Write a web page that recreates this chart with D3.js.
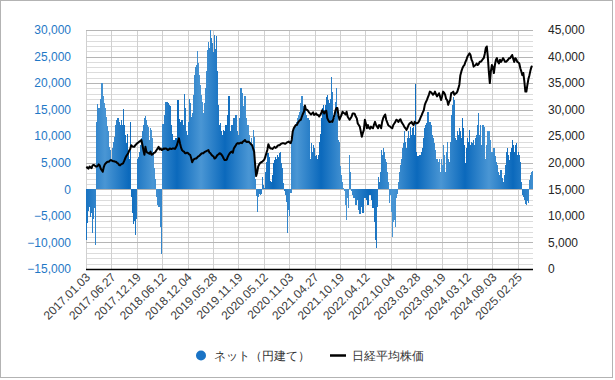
<!DOCTYPE html>
<html><head><meta charset="utf-8">
<script src="https://cdn.jsdelivr.net/npm/d3@7/dist/d3.min.js"></script>
<style>
html,body{margin:0;padding:0;background:#fff;}
svg{display:block;}
text{font-family:"Liberation Sans",Arial,sans-serif;}
</style></head>
<body>
<svg id="c" width="615" height="380"></svg>
<script>
const startDate = "2017.01.03";
const weekCount = 440;
const netValues = [
-9500,-6300,-4000,-3300,-5200,-4500,-8200,-5500,-3600,-10400,
12700,16000,15400,14000,17000,20000,17500,16200,15300,13700,
12000,10900,8000,7400,4600,5800,7700,9000,9900,12100,
13000,13400,12700,12100,13000,12100,15100,12100,10200,8700,
10500,7100,5800,12700,-1500,-4500,-6500,-6000,-8600,-5500,
5800,6100,7100,8300,9600,10900,12100,13400,13800,13000,
12100,11800,9300,11500,11200,9600,7100,4000,2000,-1500,
-3000,-3300,-3300,-7000,-12200,12300,12300,14000,16400,16400,
16200,15900,15600,12100,10500,9000,9300,8700,9600,9000,
16800,13200,10200,12700,13000,12100,17900,15300,10900,10200,
12700,17000,16200,13700,14300,17800,21500,23100,23400,26000,
23700,21500,19600,17800,16500,14300,16200,19000,22200,26200,
27800,26700,30000,28400,27500,25900,29000,26500,28800,22200,
15900,12100,12400,10900,10200,11200,10900,12100,12100,14000,
17600,10200,10900,12100,9600,13400,13400,14000,10900,9000,
10200,13400,19000,18100,15600,15300,17500,13400,12100,12100,
10200,9000,9600,8300,11200,9900,2000,-1300,-4200,-1400,
-800,-1100,-800,2400,800,300,3300,5200,6800,6800,
6100,1600,1400,2700,4900,5500,6100,5800,6500,6100,
6800,7100,4900,4000,1100,-300,-1100,-2300,-8300,-3900,
-5100,-600,8700,9600,10900,11500,12100,12700,13400,14000,
14600,16200,17500,13400,15600,15300,14000,13400,13400,13000,
5800,8700,7100,8300,7700,6200,6500,5800,6500,9000,
10500,13400,15300,15900,14900,15900,17300,17800,16800,16200,
17100,21200,18400,14000,13400,16500,19000,14000,9300,9000,
4300,2700,1400,200,-400,-3000,-5800,-1700,-3600,6500,
3300,-400,-1100,-1700,-1100,-3000,-2000,-1700,-3900,-4700,
-1700,-3300,-4500,-1200,-1700,-400,-2000,-3000,-1100,-400,
-1100,-2000,-3600,-6100,-9500,-11100,-3300,2400,1400,3300,
7400,6500,7700,7100,5800,5200,3300,1400,-2600,-1100,
-4200,-8900,-6100,-5800,-7000,-1700,-800,1400,3300,4600,
5800,7700,8700,10900,9000,7700,9600,10900,9600,11800,
10200,11500,11800,10200,19800,7100,6200,1400,6500,5800,
7100,7700,9600,11500,12100,12400,14600,12100,12700,12100,
10200,9600,8700,7400,5800,5800,5200,5800,3300,5800,
4600,8300,6500,3300,7100,9000,5800,5200,9000,14000,
15900,17300,16800,9600,9300,10900,10200,11500,10900,9600,
13400,11500,8300,4900,7700,9600,9000,11200,8300,9000,
8700,9300,8300,9600,10200,12100,14300,10200,12100,8300,
12100,11800,5800,3300,8300,10900,11000,9300,7100,5800,
7100,7700,6200,5200,4600,3300,1800,2700,3600,2100,
1400,2700,4600,7100,7700,6500,5500,7100,7700,9300,
8300,7100,8300,8700,6500,7100,6500,5200,1400,-1000,
-1500,-2000,-2700,-3000,-2200,-2600,1800,2700,3300,3500
];
const nikkeiValues = [
19300,19000,18900,19300,19100,19000,19500,19600,19500,19300,
19300,19400,19700,19500,18900,18600,18300,19200,19700,19900,
20100,20200,20200,20400,20500,20400,20300,20300,20200,20200,
20000,19900,19600,19500,19700,19800,19900,20300,20800,21200,
21500,21800,22300,22600,23300,23100,23000,23000,23300,23500,
23700,23800,24000,24100,24300,23400,22400,21500,23000,22100,
21900,21800,21700,22100,21500,21600,21800,21900,22100,22400,
22700,23000,22500,22700,22400,22500,22700,22600,22700,22600,
22400,22500,22700,22600,22600,22700,22700,22600,22900,23300,
24000,24600,23700,22900,22400,22200,22100,21800,21800,21900,
21800,21600,21500,20900,20100,20500,20700,20800,20800,21000,
21200,21300,21500,21700,21800,21800,22000,22100,22200,22300,
22400,21900,21800,21500,21300,21200,20800,20900,21200,21500,
21600,21800,21700,21500,21200,20800,20500,20500,20600,21100,
21500,21800,22000,22100,21900,22700,23000,23300,23600,23700,
23600,23700,23800,23700,24000,24100,24300,24000,23900,24000,
23900,23700,23500,23300,22700,22100,19600,17500,18200,19300,
19700,20000,20100,20200,20400,20600,21100,21800,22400,23500,
23000,22700,22700,22600,22800,23000,22800,22900,23200,23300,
23300,23500,23600,23700,23700,23600,23600,23800,23900,24000,
23800,23700,24300,25900,26500,26800,27100,27100,27500,27800,
28000,28100,28700,29200,29600,30800,30000,30000,29800,29500,
29300,29100,29300,29500,29000,29100,29300,29000,29000,28700,
29000,29300,29900,29600,29300,29600,29800,28400,28000,27700,
27700,27800,27700,28300,29000,29800,30300,30300,28900,28100,
28600,29000,29600,29400,29300,29100,29600,28700,28400,28100,
28400,28700,29300,29300,29200,28700,28400,27400,27100,26800,
25900,24900,25600,26200,28100,27400,26500,27100,26600,26400,
26800,26600,26500,27200,27700,27100,26800,26500,27100,27000,
26500,27700,28400,28800,29100,28100,27600,27100,26900,26800,
26600,26500,27100,27400,27700,28100,28000,27700,28000,28200,
27700,27400,27100,26700,26500,26200,26600,27100,27400,27500,
27700,27300,27100,27700,27500,27400,27500,27700,28100,28600,
29000,29500,29900,30900,31400,31800,32300,32800,33400,33300,
33100,32800,33000,33400,32900,32500,32800,33100,32500,31800,
32500,33400,33200,32800,32000,31800,30900,31500,31800,33100,
33200,33400,32800,33000,33100,33400,34000,34700,36500,37200,
37800,38200,38400,39000,39400,40000,40300,40600,40300,39400,
39000,38100,38300,38400,38700,38400,38600,39000,39000,39200,
39500,39700,40500,41600,41900,40000,37200,35000,37200,38400,
38000,36900,38400,39400,39700,39000,38700,39400,39000,39300,
39700,39400,39000,39000,39200,39400,39700,39700,40000,40300,
39600,39000,39700,39500,39000,38900,38700,37800,37200,36500,
36900,35300,33400,33400,34700,35800,36500,37400,38100,38200
];
const xTickLabels = ["2017.01.03","2017.06.27","2017.12.19","2018.06.12","2018.12.04","2019.05.28","2019.11.19","2020.05.12","2020.11.03","2021.04.27","2021.10.19","2022.04.12","2022.10.04","2023.03.28","2023.09.19","2024.03.12","2024.09.03","2025.02.25"];
const leftTicks = [-15000,-10000,-5000,0,5000,10000,15000,20000,25000,30000];
const rightTicks = [0,5000,10000,15000,20000,25000,30000,35000,40000,45000];
const seriesNames = ["ネット（円建て）","日経平均株価"];

const parse = d3.timeParse("%Y.%m.%d"), fmt = d3.timeFormat("%Y.%m.%d");
const categories = d3.range(weekCount).map(i => fmt(d3.timeDay.offset(parse(startDate), 7*i)));
const data = categories.map((c,i)=>({c, net: netValues[i], nk: nikkeiValues[i]}));

const svg = d3.select("#c");
const L=86, R=533, T=30, B=269;
const x = d3.scaleBand().domain(categories).range([L,R]).padding(0);
const yL = d3.scaleLinear().domain([-15000,30000]).range([B,T]);
const yR = d3.scaleLinear().domain([0,45000]).range([B,T]);

svg.append("rect").attr("x",0.5).attr("y",0.5).attr("width",612).attr("height",377)
  .attr("fill","#fff").attr("stroke","#b3b3b3");

const defs = svg.append("defs");
const g = defs.append("linearGradient").attr("id","bg").attr("gradientUnits","userSpaceOnUse")
  .attr("x1",105).attr("x2",153).attr("y1",0).attr("y2",0).attr("spreadMethod","repeat");
g.append("stop").attr("offset",0).attr("stop-color","#4a96d4");
g.append("stop").attr("offset",0.5).attr("stop-color","#0b69bc");
g.append("stop").attr("offset",1).attr("stop-color","#4a96d4");

// grid
const minor = d3.range(-15000,30001,1000).filter(v=>v%5000!==0);
svg.append("g").selectAll("line").data(minor).join("line")
  .attr("x1",L).attr("x2",R).attr("y1",d=>Math.round(yL(d))+0.5).attr("y2",d=>Math.round(yL(d))+0.5)
  .attr("stroke","#dcdcdc").attr("stroke-width",1);
svg.append("g").selectAll("line").data(xTickLabels).join("line")
  .attr("x1",d=>Math.round(x(d))+0.5).attr("x2",d=>Math.round(x(d))+0.5).attr("y1",T).attr("y2",B)
  .attr("stroke","#d0d0d0").attr("stroke-width",1);
svg.append("g").selectAll("line").data(leftTicks).join("line")
  .attr("x1",L).attr("x2",R).attr("y1",d=>Math.round(yL(d))+0.5).attr("y2",d=>Math.round(yL(d))+0.5)
  .attr("stroke","#b5b5b5").attr("stroke-width",1);

// bars
svg.append("g").attr("shape-rendering","crispEdges").selectAll("rect").data(data).join("rect")
  .attr("x",d=>x(d.c)).attr("width",x.bandwidth()+0.3)
  .attr("y",d=>yL(Math.max(0,d.net))).attr("height",d=>Math.abs(yL(d.net)-yL(0)))
  .attr("fill","url(#bg)");

// line
const line = d3.line().x(d=>x(d.c)+x.bandwidth()/2).y(d=>yR(d.nk));
svg.append("path").datum(data).attr("d",line).attr("fill","none")
  .attr("stroke","#000").attr("stroke-width",2).attr("stroke-linejoin","round");

// bottom axis line
svg.append("line").attr("x1",L).attr("x2",R).attr("y1",B+0.5).attr("y2",B+0.5)
  .attr("stroke","#000").attr("stroke-width",1.5);

// left labels
svg.append("g").selectAll("text").data(leftTicks).join("text")
  .attr("x",71).attr("y",d=>yL(d)).attr("dy","0.35em").attr("text-anchor","end")
  .attr("font-size",12).attr("fill","#1f78c6").text(d3.format(","));
// right labels
svg.append("g").selectAll("text").data(rightTicks).join("text")
  .attr("x",548).attr("y",d=>yR(d)).attr("dy","0.35em").attr("text-anchor","start")
  .attr("font-size",12).attr("fill","#262626").text(d3.format(","));
// x labels
svg.append("g").selectAll("text").data(xTickLabels).join("text")
  .attr("transform",d=>`translate(${x(d)+5},${B+9}) rotate(-45)`)
  .attr("text-anchor","end").attr("font-size",12).attr("fill","#404040").text(d=>d);

// legend
const lg = svg.append("g");
lg.append("circle").attr("cx",201).attr("cy",355.5).attr("r",5).attr("fill","#1a73c5");
lg.append("text").attr("x",214).attr("y",355.5).attr("dy","0.35em").attr("font-size",12)
  .attr("font-family","'Noto Sans CJK JP',sans-serif").attr("fill","#333").text(seriesNames[0]);
lg.append("line").attr("x1",330).attr("x2",346).attr("y1",355.5).attr("y2",355.5)
  .attr("stroke","#000").attr("stroke-width",2.5);
lg.append("text").attr("x",352).attr("y",355.5).attr("dy","0.35em").attr("font-size",12)
  .attr("font-family","'Noto Sans CJK JP',sans-serif").attr("fill","#333").text(seriesNames[1]);
</script>
</body></html>
